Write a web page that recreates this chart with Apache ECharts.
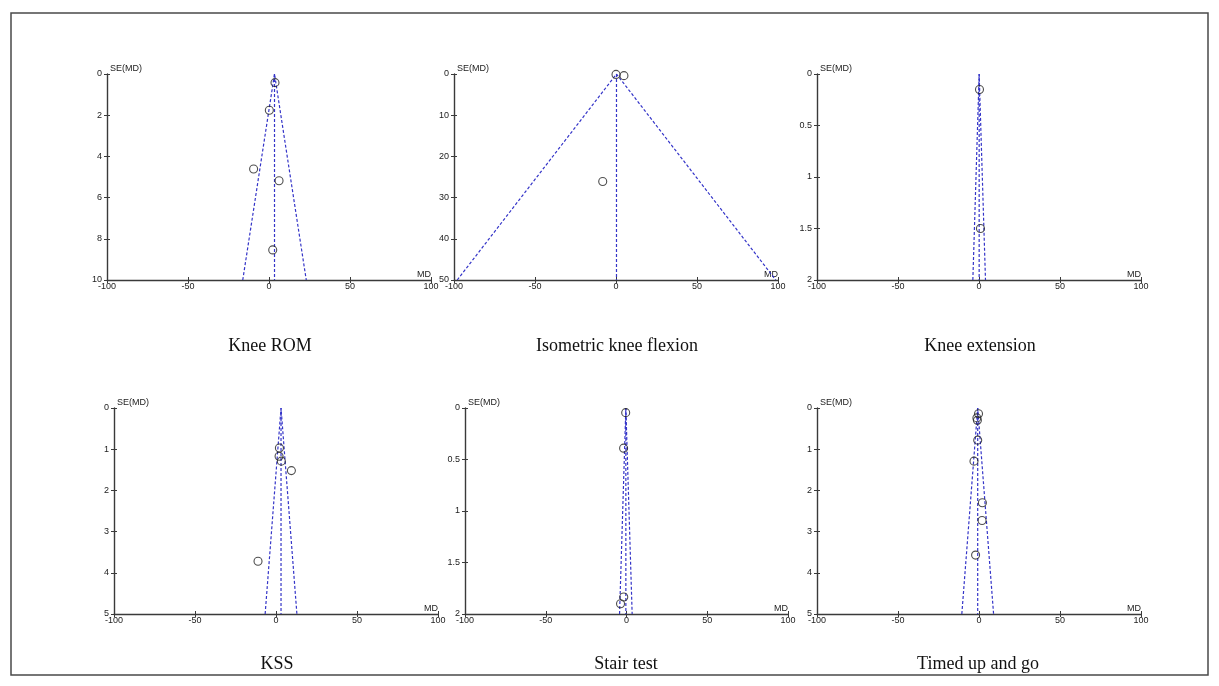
<!DOCTYPE html>
<html>
<head>
<meta charset="utf-8">
<script src="https://cdn.jsdelivr.net/npm/echarts@6/dist/echarts.min.js"></script>
<style>
  html, body { margin: 0; padding: 0; background: #fff; }
  #chart { width: 1219px; height: 686px; }
</style>
</head>
<body>
<div id="chart"></div>
<script>
// ---- Data ----
const panelTitles = ['Knee ROM', 'Isometric knee flexion', 'Knee extension', 'KSS', 'Stair test', 'Timed up and go'];
const xTicks = [-100, -50, 0, 50, 100];

const kneeRomMD = [3.7, 0.2, -9.5, 6.2, 2.3];
const kneeRomSE = [0.42, 1.76, 4.61, 5.18, 8.54];

const isoFlexMD = [0, 4.9, -8.2];
const isoFlexSE = [0.1, 0.4, 26.1];

const kneeExtMD = [0.3, 0.9];
const kneeExtSE = [0.15, 1.5];

const kssMD = [2.1, 1.9, 3.3, 9.5, -11.1];
const kssSE = [0.97, 1.17, 1.29, 1.52, 3.72];

const stairMD = [-0.5, -1.8, -1.7, -3.7];
const stairSE = [0.045, 0.39, 1.835, 1.9];

const tugMD = [-0.3, -1.3, -1.0, -0.8, -3.1, 2.1, 1.9, -2.1];
const tugSE = [0.14, 0.24, 0.30, 0.78, 1.29, 2.30, 2.73, 3.57];

// y-axis (SE) maxima and tick step per panel
const seMax = [10, 50, 2, 5, 2, 5];
const seStep = [2, 10, 0.5, 1, 0.5, 1];

// funnel lines: pooled estimate and x-limits at the bottom of each funnel
const funnelCenter = [3.4, 0.3, 0.1, 3.1, -0.4, -0.8];
const funnelLow = [-16.2, -98, -3.8, -6.7, -4.3, -10.6];
const funnelHigh = [23.0, 98.6, 4.0, 12.9, 3.5, 9.0];

const panelMD = [kneeRomMD, isoFlexMD, kneeExtMD, kssMD, stairMD, tugMD];
const panelSE = [kneeRomSE, isoFlexSE, kneeExtSE, kssSE, stairSE, tugSE];

// ---- Layout ----
const gridBoxes = [
  { left: 107, top: 74, width: 324, height: 206 },
  { left: 454, top: 74, width: 324, height: 206 },
  { left: 817, top: 74, width: 324, height: 206 },
  { left: 114, top: 408, width: 324, height: 206 },
  { left: 465, top: 408, width: 323, height: 206 },
  { left: 817, top: 408, width: 324, height: 206 }
];
const titlePos = [[270, 346], [617, 346], [980, 346], [277, 664], [626, 664], [978, 664]];

const axisColor = '#3a3a3a';
const labelColor = '#222';
const funnelColor = '#3434c8';
const tickFont = { fontFamily: 'Liberation Sans, Arial, sans-serif', fontSize: 9, color: labelColor };

const grids = [], xAxes = [], yAxes = [], series = [], graphics = [];

gridBoxes.forEach((g, i) => {
  grids.push(Object.assign({ containLabel: false }, g));
  const baseX = {
    type: 'value', gridIndex: i, min: -100, max: 100, interval: 50, position: 'bottom',
    splitLine: { show: false }
  };
  xAxes.push(Object.assign({}, baseX, {
    name: 'MD', nameLocation: 'end', nameGap: 0,
    nameTextStyle: Object.assign({}, tickFont, { align: 'right', verticalAlign: 'bottom', padding: [0, 0, 1, 0] }),
    axisLine: { show: true, onZero: false, lineStyle: { color: axisColor, width: 1.4 } },
    axisTick: { show: true, length: 3, lineStyle: { color: axisColor, width: 1 } },
    axisLabel: Object.assign({}, tickFont, { margin: 2 })
  }));
  xAxes.push(Object.assign({}, baseX, {
    axisLine: { show: false, onZero: false },
    axisTick: { show: true, inside: true, length: 3, lineStyle: { color: axisColor, width: 1 } },
    axisLabel: { show: false }
  }));
  const baseY = {
    type: 'value', gridIndex: i, min: 0, max: seMax[i], interval: seStep[i], inverse: true, position: 'left',
    splitLine: { show: false }
  };
  yAxes.push(Object.assign({}, baseY, {
    name: 'SE(MD)', nameLocation: 'start', nameGap: 1,
    nameTextStyle: Object.assign({}, tickFont, { align: 'left', verticalAlign: 'bottom', padding: [0, 0, 0, 3] }),
    axisLine: { show: true, onZero: false, lineStyle: { color: axisColor, width: 1.4 } },
    axisTick: { show: true, length: 3, lineStyle: { color: axisColor, width: 1 } },
    axisLabel: Object.assign({}, tickFont, { margin: 5 })
  }));
  yAxes.push(Object.assign({}, baseY, {
    axisLine: { show: false, onZero: false },
    axisTick: { show: true, inside: true, length: 3, lineStyle: { color: axisColor, width: 1 } },
    axisLabel: { show: false }
  }));

  const xi = 2 * i, yi = 2 * i;
  series.push({
    type: 'line', xAxisIndex: xi, yAxisIndex: yi, silent: true, symbol: 'none',
    lineStyle: { color: funnelColor, width: 1.2, type: [3, 2] },
    data: [[funnelLow[i], seMax[i]], [funnelCenter[i], 0], [funnelHigh[i], seMax[i]]],
    z: 2
  });
  series.push({
    type: 'line', xAxisIndex: xi, yAxisIndex: yi, silent: true, symbol: 'none',
    lineStyle: { color: funnelColor, width: 1.2, type: [3, 2] },
    data: [[funnelCenter[i], 0], [funnelCenter[i], seMax[i]]],
    z: 2
  });
  series.push({
    type: 'scatter', xAxisIndex: xi, yAxisIndex: yi, symbol: 'circle', symbolSize: 8,
    itemStyle: { color: 'rgba(255,255,255,0)', borderColor: '#222', borderWidth: 1.1 },
    data: panelMD[i].map((v, k) => [v, panelSE[i][k]]),
    z: 3
  });

  graphics.push({
    type: 'text', x: titlePos[i][0], y: titlePos[i][1],
    style: {
      text: panelTitles[i], fill: '#111',
      font: '18px "Liberation Serif", "Times New Roman", serif',
      textAlign: 'center', textVerticalAlign: 'middle'
    }
  });
});

graphics.push({
  type: 'rect', shape: { x: 11, y: 13, width: 1197, height: 662 },
  style: { fill: 'none', stroke: '#4a4a4a', lineWidth: 1.5 }, z: -1
});

const chart = echarts.init(document.getElementById('chart'), null, { renderer: 'canvas' });
chart.setOption({
  backgroundColor: '#fff',
  animation: false,
  grid: grids,
  xAxis: xAxes,
  yAxis: yAxes,
  series: series,
  graphic: graphics
});
</script>
</body>
</html>
